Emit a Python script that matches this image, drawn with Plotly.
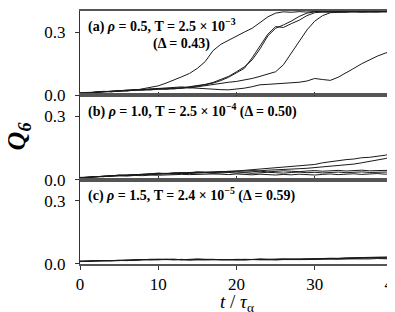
import plotly.graph_objects as go
from plotly.subplots import make_subplots

# time axis, t / tau_alpha
t = list(range(0, 41))

# panel (a): rho = 0.5
a1 = [0.010, 0.013, 0.015, 0.019, 0.018, 0.022, 0.025, 0.024, 0.030, 0.036, 0.045,
      0.058, 0.072, 0.088, 0.104, 0.128, 0.160, 0.212, 0.242, 0.262, 0.284, 0.300,
      0.318, 0.346, 0.372, 0.390, 0.396, 0.394, 0.397, 0.395, 0.398, 0.396, 0.397,
      0.395, 0.398, 0.396, 0.397, 0.395, 0.398, 0.396, 0.397]
a2 = [0.012, 0.010, 0.016, 0.017, 0.021, 0.020, 0.024, 0.027, 0.026, 0.030, 0.028,
      0.032, 0.030, 0.035, 0.040, 0.046, 0.052, 0.061, 0.074, 0.090, 0.112, 0.135,
      0.168, 0.220, 0.282, 0.318, 0.334, 0.352, 0.374, 0.390, 0.396, 0.395, 0.397,
      0.396, 0.394, 0.397, 0.396, 0.398, 0.395, 0.397, 0.396]
a3 = [0.008, 0.012, 0.014, 0.018, 0.016, 0.022, 0.021, 0.026, 0.028, 0.025, 0.031,
      0.029, 0.034, 0.033, 0.038, 0.044, 0.050, 0.058, 0.070, 0.086, 0.106, 0.128,
      0.178, 0.232, 0.290, 0.326, 0.322, 0.340, 0.356, 0.378, 0.392, 0.396, 0.395,
      0.397, 0.396, 0.398, 0.395, 0.397, 0.396, 0.395, 0.397]
a4 = [0.011, 0.014, 0.013, 0.017, 0.020, 0.019, 0.023, 0.026, 0.024, 0.029, 0.032,
      0.030, 0.034, 0.036, 0.035, 0.041, 0.046, 0.050, 0.057, 0.062, 0.066, 0.072,
      0.080, 0.090, 0.100, 0.112, 0.145, 0.200, 0.258, 0.310, 0.352, 0.378, 0.392,
      0.395, 0.397, 0.396, 0.395, 0.397, 0.396, 0.398, 0.396]
a5 = [0.009, 0.011, 0.015, 0.016, 0.019, 0.023, 0.021, 0.025, 0.028, 0.030, 0.031,
      0.035, 0.038, 0.040, 0.036, 0.033, 0.031, 0.030, 0.027, 0.026, 0.029, 0.034,
      0.041, 0.050, 0.052, 0.055, 0.057, 0.058, 0.062, 0.068, 0.080, 0.075, 0.071,
      0.086, 0.106, 0.128, 0.150, 0.170, 0.186, 0.200, 0.212]

# panel (b): rho = 1.0
b1 = [0.008, 0.012, 0.014, 0.016, 0.019, 0.021, 0.020, 0.024, 0.026, 0.028, 0.031,
      0.029, 0.033, 0.032, 0.035, 0.036, 0.034, 0.037, 0.039, 0.038, 0.041, 0.043,
      0.046, 0.048, 0.051, 0.055, 0.058, 0.061, 0.064, 0.068, 0.072, 0.080, 0.086,
      0.090, 0.095, 0.098, 0.104, 0.106, 0.110, 0.116, 0.125]
b2 = [0.010, 0.011, 0.013, 0.017, 0.018, 0.020, 0.023, 0.022, 0.025, 0.027, 0.029,
      0.030, 0.028, 0.032, 0.033, 0.035, 0.036, 0.034, 0.037, 0.040, 0.039, 0.041,
      0.043, 0.042, 0.045, 0.046, 0.048, 0.050, 0.052, 0.054, 0.057, 0.060, 0.064,
      0.068, 0.072, 0.074, 0.080, 0.086, 0.092, 0.100, 0.110]
b3 = [0.009, 0.013, 0.015, 0.014, 0.018, 0.022, 0.021, 0.024, 0.023, 0.027, 0.030,
      0.028, 0.031, 0.034, 0.032, 0.036, 0.035, 0.033, 0.036, 0.038, 0.037, 0.035,
      0.038, 0.040, 0.037, 0.039, 0.042, 0.040, 0.038, 0.041, 0.043, 0.040, 0.042,
      0.044, 0.041, 0.043, 0.045, 0.042, 0.044, 0.046, 0.045]
b4 = [0.011, 0.010, 0.014, 0.016, 0.017, 0.019, 0.022, 0.021, 0.024, 0.023, 0.026,
      0.028, 0.027, 0.030, 0.029, 0.031, 0.033, 0.030, 0.032, 0.034, 0.031, 0.033,
      0.030, 0.032, 0.035, 0.033, 0.031, 0.034, 0.036, 0.033, 0.035, 0.032, 0.034,
      0.036, 0.033, 0.035, 0.037, 0.034, 0.036, 0.035, 0.037]
b5 = [0.010, 0.012, 0.013, 0.015, 0.016, 0.018, 0.017, 0.020, 0.019, 0.022, 0.021,
      0.023, 0.022, 0.025, 0.024, 0.026, 0.025, 0.027, 0.026, 0.024, 0.027, 0.025,
      0.023, 0.026, 0.024, 0.022, 0.025, 0.023, 0.026, 0.024, 0.022, 0.025, 0.027,
      0.024, 0.026, 0.028, 0.025, 0.027, 0.029, 0.026, 0.028]

# panel (c): rho = 1.5
c1 = [0.012, 0.014, 0.013, 0.016, 0.015, 0.017, 0.019, 0.018, 0.020, 0.022, 0.021,
      0.020, 0.019, 0.021, 0.020, 0.022, 0.021, 0.019, 0.021, 0.020, 0.022, 0.023,
      0.021, 0.020, 0.022, 0.021, 0.023, 0.022, 0.024, 0.023, 0.022, 0.024, 0.025,
      0.024, 0.026, 0.028, 0.027, 0.029, 0.030, 0.031, 0.029]
c2 = [0.014, 0.013, 0.016, 0.015, 0.017, 0.016, 0.018, 0.020, 0.019, 0.021, 0.023,
      0.022, 0.020, 0.022, 0.019, 0.021, 0.023, 0.022, 0.020, 0.022, 0.021, 0.019,
      0.022, 0.024, 0.023, 0.021, 0.022, 0.024, 0.023, 0.025, 0.024, 0.026, 0.025,
      0.027, 0.029, 0.030, 0.032, 0.031, 0.033, 0.032, 0.034]
c3 = [0.011, 0.015, 0.014, 0.015, 0.018, 0.017, 0.016, 0.019, 0.021, 0.020, 0.022,
      0.021, 0.023, 0.020, 0.022, 0.024, 0.022, 0.021, 0.023, 0.021, 0.020, 0.022,
      0.023, 0.021, 0.020, 0.023, 0.024, 0.022, 0.021, 0.024, 0.026, 0.025, 0.027,
      0.026, 0.028, 0.027, 0.030, 0.029, 0.031, 0.028, 0.030]
c4 = [0.013, 0.012, 0.015, 0.014, 0.016, 0.018, 0.017, 0.018, 0.020, 0.019, 0.020,
      0.022, 0.021, 0.019, 0.021, 0.020, 0.019, 0.020, 0.022, 0.021, 0.019, 0.021,
      0.020, 0.022, 0.021, 0.019, 0.021, 0.020, 0.022, 0.021, 0.023, 0.022, 0.021,
      0.023, 0.024, 0.023, 0.025, 0.024, 0.026, 0.025, 0.024]

panels = [
    [a1, a2, a3, a4, a5],
    [b1, b2, b3, b4, b5],
    [c1, c2, c3, c4],
]

labels = [
    "(a) <i>ρ</i> = 0.5, T = 2.5 × 10<sup>−3</sup>",
    "(b) <i>ρ</i> = 1.0, T = 2.5 × 10<sup>−4</sup> (Δ = 0.50)",
    "(c) <i>ρ</i> = 1.5, T = 2.4 × 10<sup>−5</sup> (Δ = 0.59)",
]

FONT = "Times New Roman, Liberation Serif, DejaVu Serif, serif"

fig = make_subplots(rows=3, cols=1, shared_xaxes=True, vertical_spacing=0)

for i, curves in enumerate(panels):
    for q in curves:
        fig.add_trace(
            go.Scatter(x=t, y=q, mode="lines",
                       line=dict(color="#1a1a1a", width=1), showlegend=False),
            row=i + 1, col=1
        )

fig.update_yaxes(
    range=[0, 0.4], tickvals=[0, 0.3], ticktext=["0.0", "0.3"],
    ticks="outside", ticklen=4, tickcolor="#333", ticklabelstandoff=6,
    showline=True, linecolor="#333", linewidth=1, mirror=True,
    showgrid=False, zeroline=False,
    tickfont=dict(family=FONT, size=17, color="black")
)
fig.update_xaxes(
    range=[0, 40], tickvals=[0, 10, 20, 30, 40],
    ticks="inside", ticklen=4, tickcolor="#333",
    showline=True, linecolor="#555", linewidth=1.5, mirror=True,
    showgrid=False, zeroline=False, ticklabeloverflow="allow",
    tickfont=dict(family=FONT, size=17, color="black")
)
fig.update_xaxes(ticks="outside", showticklabels=True, row=3, col=1)

# panel labels
L, W, B, H = 72, 315, 256, 255
def px(x, y):
    return (x - L) / W, (B - y) / H

ann = []
for text, ypix in zip(labels, [16, 101, 186]):
    x, y = px(78, ypix)
    ann.append(dict(text="<b>" + text + "</b>", x=x, y=y, xref="paper", yref="paper",
                    xanchor="left", yanchor="middle", showarrow=False,
                    font=dict(family=FONT, size=14, color="black")))
x, y = px(143, 34)
ann.append(dict(text="<b>(Δ = 0.43)</b>", x=x, y=y, xref="paper", yref="paper",
                xanchor="left", yanchor="middle", showarrow=False,
                font=dict(family=FONT, size=14, color="black")))

# axis titles
x, y = px(10, 127)
ann.append(dict(text="<b><i>Q</i></b><sub><b><i>6</i></b></sub>", x=x, y=y,
                xref="paper", yref="paper", textangle=-90, showarrow=False,
                xanchor="center", yanchor="middle",
                font=dict(family=FONT, size=26, color="black")))
x, y = px(230, 295)
ann.append(dict(text="<i>t</i> / <i>τ</i><sub>α</sub>", x=x, y=y,
                xref="paper", yref="paper", showarrow=False,
                xanchor="center", yanchor="middle",
                font=dict(family=FONT, size=19, color="black")))

fig.update_layout(
    width=395, height=312,
    margin=dict(l=72, r=8, t=1, b=56),
    paper_bgcolor="white", plot_bgcolor="white",
    annotations=ann
)

fig.write_html("out.html")
